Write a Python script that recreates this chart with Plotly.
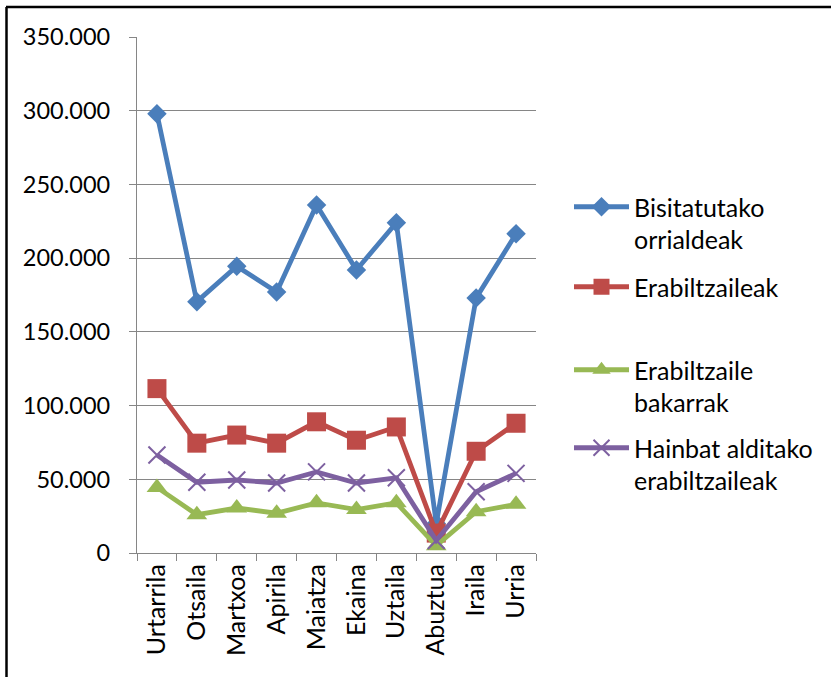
import plotly.graph_objects as go

# Monthly website statistics
months = ["Urtarrila", "Otsaila", "Martxoa", "Apirila", "Maiatza",
          "Ekaina", "Uztaila", "Abuztua", "Iraila", "Urria"]
orrialdeak = [298000, 170500, 194500, 177000, 236000, 192000, 224000, 20000, 173000, 216500]
erabiltzaileak = [111500, 74500, 80000, 74500, 89000, 76500, 85500, 13500, 69000, 88000]
bakarrak = [44500, 26000, 30500, 27000, 34000, 29500, 34000, 5000, 28000, 33000]
hainbat = [66500, 48000, 49500, 47500, 55000, 47500, 51000, 8500, 41500, 54000]

series_names = ["Bisitatutako<br>orrialdeak", "Erabiltzaileak",
                "Erabiltzaile<br>bakarrak", "Hainbat alditako<br>erabiltzaileak"]
y_ticks = [0, 50000, 100000, 150000, 200000, 250000, 300000, 350000]

W, H = 831, 677
ML, MR, MT, MB = 137, 295, 37, 124
PW, PH = W - ML - MR, H - MT - MB

FONT = "Lato, 'Open Sans', sans-serif"
GRID = "#868686"

colors = ["#4A7EBB", "#BE4B48", "#98B954", "#7D60A0"]
symbols = ["diamond", "square", "triangle-up", "x-thin"]
sizes = [15, 19, 18, 17]
data = [orrialdeak, erabiltzaileak, bakarrak, hainbat]
legends = ["legend", "legend2", "legend3", "legend4"]

fig = go.Figure()
for name, vals, col, sym, sz, lg in zip(series_names, data, colors, symbols, sizes, legends):
    marker = dict(symbol=sym, size=sz, color=col)
    if sym == "x-thin":
        marker["line"] = dict(color=col, width=2)
    fig.add_trace(go.Scatter(
        x=months, y=vals, name=name, mode="lines+markers",
        line=dict(color=col, width=4.8), marker=marker, legend=lg,
        cliponaxis=False,
    ))


def px_x(px):
    return (px - ML) / PW


def px_y(py):
    return 1 - (py - MT) / PH


legend_tops = [184, 264, 347, 425]
legend_style = dict(font=dict(family=FONT, size=25, color="#000000"),
                    bgcolor="rgba(0,0,0,0)", itemwidth=55, valign="top",
                    xanchor="left", yanchor="top", tracegroupgap=0)
layout_legends = {}
for lg, top in zip(legends, legend_tops):
    layout_legends[lg] = dict(x=px_x(569), y=px_y(top), **legend_style)

fig.update_layout(
    width=W, height=H,
    margin=dict(l=ML, r=MR, t=MT, b=MB),
    paper_bgcolor="white", plot_bgcolor="white",
    separators=",.",
    font=dict(family=FONT, size=24, color="#000000"),
    showlegend=True,
    **layout_legends,
    xaxis=dict(
        type="category", tickson="boundaries", ticks="outside", ticklen=7,
        tickcolor=GRID, tickwidth=1.3, tickangle=-90,
        showline=True, linecolor=GRID, linewidth=1.3,
        showgrid=False, zeroline=False, range=[-0.5, len(months) - 0.5],
        tickfont=dict(family=FONT, size=25, color="#000000"),
    ),
    yaxis=dict(
        range=[0, 350000], tickvals=y_ticks, tickformat=",.0f",
        ticks="outside", ticklen=7, tickcolor=GRID, tickwidth=1.3,
        showline=True, linecolor=GRID, linewidth=1.3,
        showgrid=True, gridcolor=GRID, gridwidth=1.3, zeroline=False,
        ticklabelstandoff=14,
        tickfont=dict(family=FONT, size=23.5, color="#000000"),
    ),
)

# chart frame: top and left edges
fig.add_shape(type="line", xref="paper", yref="paper",
              x0=px_x(6), x1=px_x(W + 5), y0=px_y(7), y1=px_y(7),
              line=dict(color="#000000", width=2.5))
fig.add_shape(type="line", xref="paper", yref="paper",
              x0=px_x(6.5), x1=px_x(6.5), y0=px_y(7), y1=px_y(H + 5),
              line=dict(color="#000000", width=2.5))

fig.write_html("out.html")
